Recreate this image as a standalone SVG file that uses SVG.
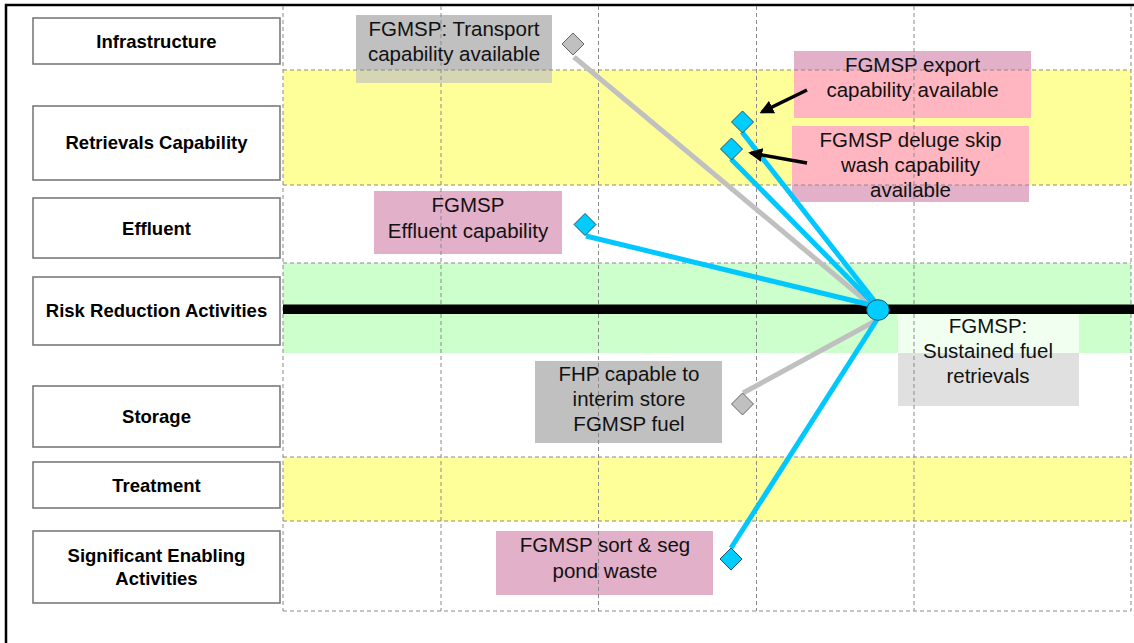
<svg xmlns="http://www.w3.org/2000/svg" width="1134" height="643" viewBox="0 0 1134 643">
  <style>
    .lane { fill: #ffffff; stroke: #7a7a7a; stroke-width: 1.6; }
    .lbl { font-family: "Liberation Sans", Arial, sans-serif; font-weight: bold; font-size: 18.5px; text-anchor: middle; fill: #000; }
    .note { font-family: "Liberation Sans", Arial, sans-serif; font-size: 20.5px; text-anchor: middle; fill: #111; }
    .grid { stroke: #8a8a8a; stroke-width: 1; stroke-dasharray: 4 3; fill: none; }
    .gray-link { stroke: #c0c0c0; stroke-width: 5; fill: none; }
    .blue-link { stroke: #00c8ff; stroke-width: 5; fill: none; }
    .blue-dia { fill: #00ccff; stroke: #1d5466; stroke-width: 1; }
    .gray-dia { fill: #c0c0c0; stroke: #666666; stroke-width: 1; }
    .pointer { stroke: #000; stroke-width: 3.5; fill: none; marker-end: url(#head); }
  </style>
  <defs>
    <marker id="head" viewBox="0 0 10 10" refX="8" refY="5" markerWidth="4" markerHeight="4" orient="auto" markerUnits="strokeWidth">
      <path d="M0,0 L10,5 L0,10 z" fill="#000"/>
    </marker>
  </defs>

  <rect width="1134" height="643" fill="#ffffff"/>

  <!-- colour bands across the timeline area -->
  <g id="bands">
    <rect x="283" y="70" width="848" height="115" fill="#ffff99"/>
    <rect x="283" y="263" width="848" height="90" fill="#ccffcc"/>
    <rect x="283" y="457" width="848" height="64" fill="#ffff99"/>
  </g>

  <!-- outer frame -->
  <path d="M6,643 L6,5 L1134,5" fill="none" stroke="#000" stroke-width="2.5"/>

  <!-- swim-lane headings -->
  <g id="lane-infrastructure">
    <rect class="lane" x="33" y="18" width="247" height="46"/>
    <text class="lbl" x="156.5" y="48">Infrastructure</text>
  </g>
  <g id="lane-retrievals">
    <rect class="lane" x="33" y="106" width="247" height="74"/>
    <text class="lbl" x="156.5" y="149">Retrievals Capability</text>
  </g>
  <g id="lane-effluent">
    <rect class="lane" x="33" y="198" width="247" height="60"/>
    <text class="lbl" x="156.5" y="235">Effluent</text>
  </g>
  <g id="lane-risk">
    <rect class="lane" x="33" y="277" width="247" height="68"/>
    <text class="lbl" x="156.5" y="317">Risk Reduction Activities</text>
  </g>
  <g id="lane-storage">
    <rect class="lane" x="33" y="386" width="247" height="61"/>
    <text class="lbl" x="156.5" y="423">Storage</text>
  </g>
  <g id="lane-treatment">
    <rect class="lane" x="33" y="462" width="247" height="46"/>
    <text class="lbl" x="156.5" y="492">Treatment</text>
  </g>
  <g id="lane-enabling">
    <rect class="lane" x="33" y="531" width="247" height="72"/>
    <text class="lbl" x="156.5" y="562">Significant Enabling</text>
    <text class="lbl" x="156.5" y="585">Activities</text>
  </g>

  <!-- milestone note boxes (lighter where they sit over a band) -->
  <g id="note-transport">
    <rect x="356" y="15" width="196" height="68" fill="#c0c0c0"/>
    <rect x="356" y="70" width="196" height="13" fill="#d6d6b4"/>
  </g>
  <g id="note-export">
    <rect x="794" y="51" width="237" height="67" fill="#e2b0c8"/>
    <rect x="794" y="70" width="237" height="48" fill="#ffb6c1"/>
  </g>
  <g id="note-deluge">
    <rect x="792" y="126" width="237" height="76" fill="#e2b0c8"/>
    <rect x="792" y="126" width="237" height="59" fill="#ffb6c1"/>
  </g>
  <g id="note-effluent">
    <rect x="374" y="191" width="188" height="63" fill="#e2b0c8"/>
  </g>
  <g id="note-sustained">
    <rect x="898" y="313" width="181" height="93" fill="#e0e0e0"/>
    <rect x="898" y="313" width="181" height="40" fill="#f0fff0"/>
  </g>
  <g id="note-fhp">
    <rect x="535" y="361" width="187" height="82" fill="#c0c0c0"/>
  </g>
  <g id="note-sortseg">
    <rect x="496" y="531" width="217" height="64" fill="#e2b0c8"/>
  </g>

  <!-- dashed timeline grid -->
  <g id="grid">
    <line class="grid" x1="283" y1="6" x2="283" y2="611"/>
    <line class="grid" x1="441" y1="6" x2="441" y2="611"/>
    <line class="grid" x1="598.5" y1="6" x2="598.5" y2="611"/>
    <line class="grid" x1="756.5" y1="6" x2="756.5" y2="611"/>
    <line class="grid" x1="914" y1="6" x2="914" y2="611"/>
    <line class="grid" x1="1131" y1="6" x2="1131" y2="611"/>
    <line class="grid" x1="283" y1="70" x2="1131" y2="70"/>
    <line class="grid" x1="283" y1="185" x2="1131" y2="185"/>
    <line class="grid" x1="283" y1="263" x2="1131" y2="263"/>
    <line class="grid" x1="283" y1="457" x2="1131" y2="457"/>
    <line class="grid" x1="283" y1="521" x2="1131" y2="521"/>
    <line class="grid" x1="283" y1="611" x2="1131" y2="611"/>
  </g>

  <!-- risk reduction timeline bar -->
  <rect x="283" y="304.5" width="851" height="9.5" fill="#000"/>

  <!-- links from the milestone to its dependencies -->
  <g id="connectors">
    <line class="gray-link" x1="574" y1="57" x2="872" y2="306"/>
    <line class="gray-link" x1="743" y1="393" x2="877" y2="320"/>
    <line class="blue-link" x1="742" y1="132" x2="876" y2="303"/>
    <line class="blue-link" x1="731" y1="159" x2="874" y2="304"/>
    <line class="blue-link" x1="586" y1="236" x2="871" y2="305"/>
    <line class="blue-link" x1="731" y1="548" x2="878" y2="318"/>
    <line class="pointer" x1="807" y1="90" x2="762" y2="112"/>
    <line class="pointer" x1="807" y1="163" x2="751" y2="153"/>
  </g>

  <!-- dependency markers -->
  <g id="marker-transport"><path class="gray-dia" d="M573,33 L584,44 L573,55 L562,44 z"/></g>
  <g id="marker-export"><path class="blue-dia" d="M742.5,111 L753.5,122 L742.5,133 L731.5,122 z"/></g>
  <g id="marker-deluge"><path class="blue-dia" d="M731.5,138 L742.5,149 L731.5,160 L720.5,149 z"/></g>
  <g id="marker-effluent"><path class="blue-dia" d="M585,213.5 L596,224.5 L585,235.5 L574,224.5 z"/></g>
  <g id="marker-fhp"><path class="gray-dia" d="M742.5,393 L753.5,404 L742.5,415 L731.5,404 z"/></g>
  <g id="marker-sortseg"><path class="blue-dia" d="M731,548 L742,559 L731,570 L720,559 z"/></g>
  <g id="milestone"><ellipse cx="878" cy="310" rx="11.3" ry="10.3" fill="#00ccff" stroke="#1d5466" stroke-width="1"/></g>

  <!-- note texts -->
  <g id="note-texts">
    <text class="note" x="454" y="36">FGMSP: Transport</text>
    <text class="note" x="454" y="61">capability available</text>
    <text class="note" x="912.5" y="72">FGMSP export</text>
    <text class="note" x="912.5" y="97">capability available</text>
    <text class="note" x="910.5" y="147">FGMSP deluge skip</text>
    <text class="note" x="910.5" y="172">wash capability</text>
    <text class="note" x="910.5" y="197">available</text>
    <text class="note" x="468" y="212">FGMSP</text>
    <text class="note" x="468" y="237.5">Effluent capability</text>
    <text class="note" x="988" y="333">FGMSP:</text>
    <text class="note" x="988" y="358">Sustained fuel</text>
    <text class="note" x="988" y="383">retrievals</text>
    <text class="note" x="629" y="381">FHP capable to</text>
    <text class="note" x="629" y="406">interim store</text>
    <text class="note" x="629" y="431">FGMSP fuel</text>
    <text class="note" x="605" y="552">FGMSP sort &amp; seg</text>
    <text class="note" x="605" y="578">pond waste</text>
  </g>
</svg>
